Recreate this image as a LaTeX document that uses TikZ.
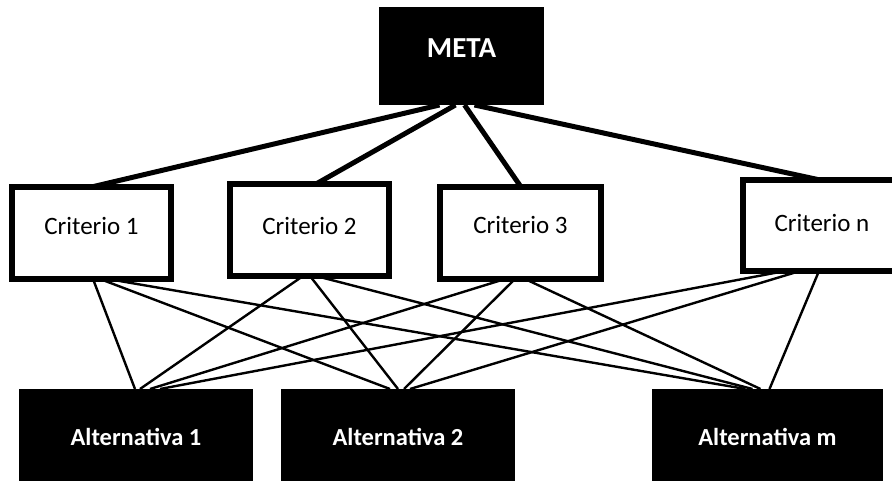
\documentclass[tikz,border=0pt]{standalone}
\usepackage{fontspec}
\setmainfont{Carlito}
\begin{document}
\begin{tikzpicture}[x=1pt,y=-1pt,
  darkbox/.style={rectangle,fill=black,draw=none,inner sep=0,outer sep=0},
  critbox/.style={rectangle,draw=black,line width=6pt,fill=white,inner sep=0,outer sep=0,
    minimum height=92pt},
  crittext/.style={inner sep=0,font=\fontsize{25}{30}\selectfont,text=black},
  alttext/.style={inner sep=0,font=\fontsize{24.5}{29}\selectfont\bfseries,text=white},
  goal/.style={line width=5pt},
  link/.style={line width=2.4pt}]
\useasboundingbox (0,0) rectangle (892,481);

% goal
\node[darkbox,minimum width=165pt,minimum height=98pt] (meta) at (461.5,56) {};
\node[inner sep=0,font=\fontsize{29}{34}\selectfont\bfseries,text=white] (metatxt)
  at ([yshift=8pt]meta.center) {META};

% alternatives
\node[darkbox,minimum width=234pt,minimum height=96pt] (a1) at (136,437) {};
\node[darkbox,minimum width=234pt,minimum height=96pt] (a2) at (398,437) {};
\node[darkbox,minimum width=231pt,minimum height=96pt] (am) at (767.5,437) {};

% connectors from the goal to the criteria
\draw[goal] ([xshift=-22pt]meta.south) -- ([xshift=0pt]91.5,187);
\draw[goal] ([xshift=-6pt]meta.south) -- (316,184);
\draw[goal] ([xshift=3pt]meta.south) -- (521,187);
\draw[goal] ([xshift=13pt]meta.south) -- (820,180);

% criteria
\node[critbox,minimum width=159pt] (c1) at (91.5,233) {};
\node[critbox,minimum width=159pt] (c2) at (309.5,230) {};
\node[critbox,minimum width=161pt] (c3) at (520.5,233) {};
\node[critbox,minimum width=162pt,minimum height=91pt] (cn) at (824,225.5) {};

% connectors from the criteria to the alternatives
\draw[link] ([xshift=1.5pt]c1.south) -- ([xshift=-1pt]a1.north);
\draw[link] ([xshift=8.5pt]c1.south) -- ([xshift=-8pt]a2.north);
\draw[link] ([xshift=16.5pt]c1.south) -- ([xshift=-22pt]am.north);

\draw[link] ([xshift=-6.5pt]c2.south) -- ([xshift=4pt]a1.north);
\draw[link] ([xshift=0.5pt]c2.south) -- ([xshift=0pt]a2.north);
\draw[link] ([xshift=6.5pt]c2.south) -- ([xshift=-15pt]am.north);

\draw[link] ([xshift=-15.5pt]c3.south) -- ([xshift=14pt]a1.north);
\draw[link] ([xshift=-5.5pt]c3.south) -- ([xshift=6pt]a2.north);
\draw[link] ([xshift=4.5pt]c3.south) -- ([xshift=-7pt]am.north);

\draw[link] ([xshift=-39pt]cn.south) -- ([xshift=24pt]a1.north);
\draw[link] ([xshift=-24pt]cn.south) -- ([xshift=12pt]a2.north);
\draw[link] ([xshift=-5pt]cn.south) -- ([xshift=2pt]am.north);

% labels
\node[crittext] (t1) at ([yshift=7pt]c1.center) {Criterio 1};
\node[crittext] (t2) at ([yshift=4pt]c2.center) {Criterio 2};
\node[crittext] (t3) at ([yshift=8pt]c3.center) {Criterio 3};
\node[crittext] (tn) at (822,223) {Criterio n};
\node[alttext] (u1) at (a1.center) {Alternativa 1};
\node[alttext] (u2) at (a2.center) {Alternativa 2};
\node[alttext] (um) at (am.center) {Alternativa m};
\end{tikzpicture}
\end{document}
